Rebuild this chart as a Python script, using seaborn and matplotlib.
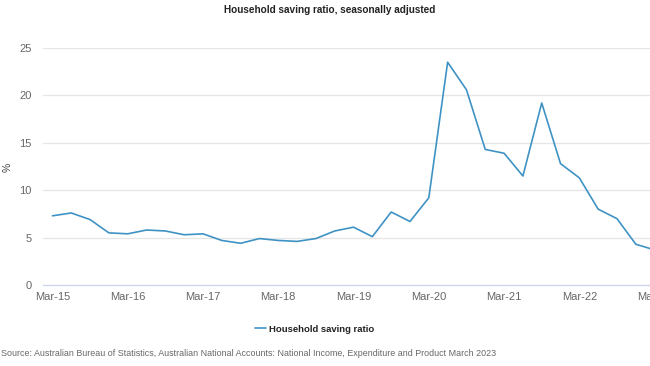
import matplotlib
matplotlib.use('Agg')
import matplotlib.pyplot as plt
import seaborn as sns
import pandas as pd

# quarterly household saving ratio, % (seasonally adjusted)
quarters = ['Mar-15', 'Jun-15', 'Sep-15', 'Dec-15',
            'Mar-16', 'Jun-16', 'Sep-16', 'Dec-16',
            'Mar-17', 'Jun-17', 'Sep-17', 'Dec-17',
            'Mar-18', 'Jun-18', 'Sep-18', 'Dec-18',
            'Mar-19', 'Jun-19', 'Sep-19', 'Dec-19',
            'Mar-20', 'Jun-20', 'Sep-20', 'Dec-20',
            'Mar-21', 'Jun-21', 'Sep-21', 'Dec-21',
            'Mar-22', 'Jun-22', 'Sep-22', 'Dec-22',
            'Mar-23']
saving_ratio = [7.3, 7.6, 6.9, 5.5, 5.4, 5.8, 5.7, 5.3,
                5.4, 4.7, 4.4, 4.9, 4.7, 4.6, 4.9, 5.7,
                6.1, 5.1, 7.7, 6.7, 9.2, 23.5, 20.6, 14.3,
                13.9, 11.5, 19.2, 12.8, 11.3, 8.0, 7.0, 4.3,
                3.7]
y_ticks = [0, 5, 10, 15, 20, 25]

df = pd.DataFrame({'quarter': quarters, 'ratio': saving_ratio})

sns.set_style('white')
plt.rcParams['font.family'] = ['Liberation Sans', 'DejaVu Sans']

fig = plt.figure(figsize=(6.5, 3.66), dpi=100)
# plot area runs past the right edge, like the cropped original
ax = fig.add_axes([0.0662, 0.2213, 0.9554, 0.6475])

line_col = '#3f93c4'
sns.lineplot(data=df, x='quarter', y='ratio', ax=ax, color=line_col,
             linewidth=1.2, sort=False, label='Household saving ratio',
             legend=False)

ax.set_xlim(-0.5, len(quarters) - 0.5)
ax.set_ylim(0, 25)
ax.set_yticks(y_ticks)
ax.set_yticklabels([str(t) for t in y_ticks])
xt = list(range(0, len(quarters), 4))
ax.set_xticks(xt)
ax.set_xticklabels([quarters[i] for i in xt])

ax.grid(axis='y', color='#e6e6e6', linewidth=0.9)
ax.grid(axis='x', visible=False)
for s in ['top', 'left', 'right']:
    ax.spines[s].set_visible(False)
ax.spines['bottom'].set_color('#ccd6eb')
ax.spines['bottom'].set_linewidth(0.9)
ax.tick_params(axis='both', length=0, labelsize=8, colors='#666666')
ax.tick_params(axis='y', pad=8)
ax.tick_params(axis='x', pad=5)
ax.set_xlabel('')
ax.set_ylabel('')

fig.text(8 / 650, 1 - 167 / 366, '%', rotation=90, fontsize=7.5,
         color='#444444', ha='center', va='center')

fig.text(330 / 650, 1 - 10 / 366, 'Household saving ratio, seasonally adjusted',
         fontsize=7.2, fontweight='bold', color='#222222',
         ha='center', va='center')

handles, labels = ax.get_legend_handles_labels()
leg = fig.legend(handles, labels, loc='center',
                 bbox_to_anchor=(315 / 650, 1 - 329 / 366),
                 frameon=False, handlelength=1.1, handletextpad=0.4,
                 prop={'size': 6.8, 'weight': 'bold'})
for t in leg.get_texts():
    t.set_color('#222222')

fig.text(1 / 650, 1 - 353 / 366,
         'Source: Australian Bureau of Statistics, Australian National Accounts: '
         'National Income, Expenditure and Product March 2023',
         fontsize=6.4, color='#666666', ha='left', va='center')

fig.savefig('out.png', dpi=100)
